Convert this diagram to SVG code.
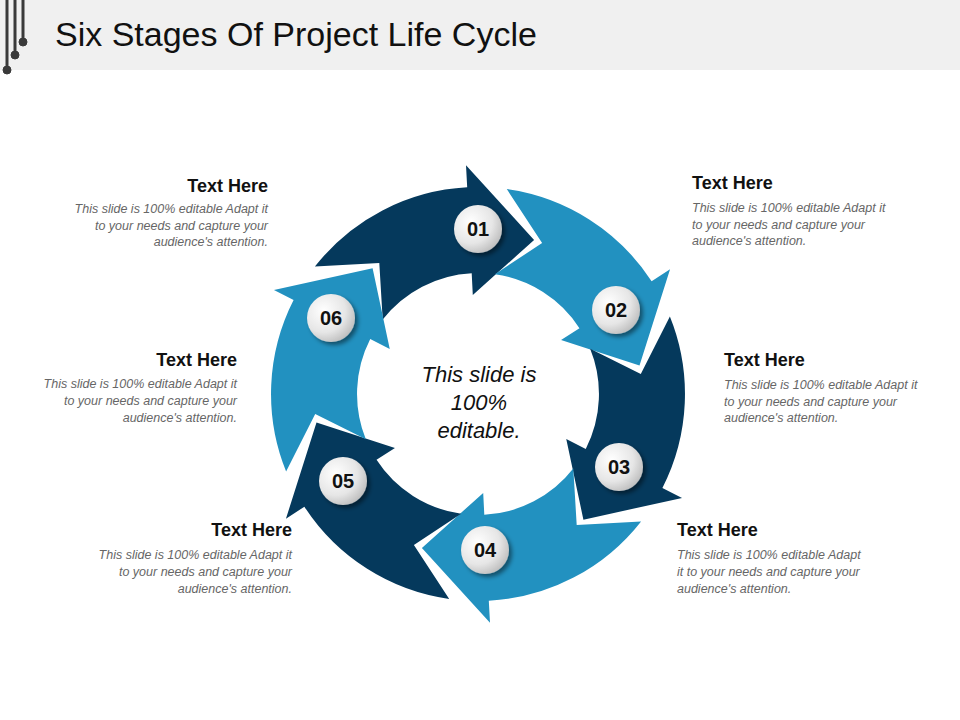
<svg xmlns="http://www.w3.org/2000/svg" width="960" height="720" viewBox="0 0 960 720">
<style>
.t{font-family:"Liberation Sans",Arial,sans-serif}
.h{font-size:18px;font-weight:bold;fill:#111}
.b{font-size:12.5px;font-style:italic;fill:#666}
.n{font-size:20px;font-weight:bold;fill:#111;text-anchor:middle}
.dk{fill:#05395C}.lt{fill:#2291C0}
</style>
<defs>
<path id="arr" d="M -163.1,-127.4 A 207 207 0 0 1 -10.8,-206.7 L -12.0,-228.7 L 56.1,-154.1 L -5.2,-98.9 L -6.3,-120.8 A 121 121 0 0 0 -95.3,-74.5 L -98.7,-131.0 Z"/>
<radialGradient id="bg" cx="0.35" cy="0.35" r="0.75"><stop offset="0" stop-color="#ffffff"/><stop offset="0.6" stop-color="#e6e6e6"/><stop offset="1" stop-color="#b8b8b8"/></radialGradient>
<filter id="sh" x="-30%" y="-30%" width="170%" height="170%"><feDropShadow dx="3" dy="3" stdDeviation="2" flood-color="#000" flood-opacity="0.45"/></filter>
</defs>
<rect x="0" y="0" width="960" height="70" fill="#f0f0f0"/>
<g fill="#3a3a3a" stroke="#3a3a3a">
<line x1="7" y1="0" x2="7" y2="68" stroke-width="3"/><circle cx="7" cy="70" r="4"/>
<line x1="15" y1="0" x2="15" y2="53" stroke-width="3"/><circle cx="15" cy="55" r="4"/>
<line x1="23" y1="0" x2="23" y2="40" stroke-width="3"/><circle cx="23" cy="42" r="4"/>
</g>
<text class="t" x="55" y="46" font-size="34" fill="#111">Six Stages Of Project Life Cycle</text>
<g id="ring" transform="translate(478,394)">
<g id="arrow1"><use href="#arr" class="dk"/></g>
<g id="arrow2"><use href="#arr" class="lt" transform="rotate(60)"/></g>
<g id="arrow3"><use href="#arr" class="dk" transform="rotate(120)"/></g>
<g id="arrow4"><use href="#arr" class="lt" transform="rotate(180)"/></g>
<g id="arrow5"><use href="#arr" class="dk" transform="rotate(240)"/></g>
<g id="arrow6"><use href="#arr" class="lt" transform="rotate(300)"/></g>
</g>
<g id="badges">
<g id="b1"><circle cx="478" cy="229" r="24" fill="url(#bg)" filter="url(#sh)"/><text class="t n" x="478" y="236">01</text></g>
<g id="b2"><circle cx="616" cy="310" r="24" fill="url(#bg)" filter="url(#sh)"/><text class="t n" x="616" y="317">02</text></g>
<g id="b3"><circle cx="619" cy="467" r="24" fill="url(#bg)" filter="url(#sh)"/><text class="t n" x="619" y="474">03</text></g>
<g id="b4"><circle cx="485" cy="550" r="24" fill="url(#bg)" filter="url(#sh)"/><text class="t n" x="485" y="557">04</text></g>
<g id="b5"><circle cx="343" cy="481" r="24" fill="url(#bg)" filter="url(#sh)"/><text class="t n" x="343" y="488">05</text></g>
<g id="b6"><circle cx="331" cy="318" r="24" fill="url(#bg)" filter="url(#sh)"/><text class="t n" x="331" y="325">06</text></g>
</g>
<g id="center" class="t" font-size="22" font-style="italic" fill="#111" text-anchor="middle">
<text x="479" y="382">This slide is</text><text x="479" y="410">100%</text><text x="479" y="438">editable.</text>
</g>
<g id="txt1" class="t" text-anchor="end"><text class="h" x="268" y="192">Text Here</text>
<text class="b" x="268" y="213">This slide is 100% editable Adapt it</text><text class="b" x="268" y="230">to your needs and capture your</text><text class="b" x="268" y="246">audience's attention.</text></g>
<g id="txt6" class="t" text-anchor="end"><text class="h" x="237" y="366">Text Here</text>
<text class="b" x="237" y="388">This slide is 100% editable Adapt it</text><text class="b" x="237" y="405">to your needs and capture your</text><text class="b" x="237" y="422">audience's attention.</text></g>
<g id="txt5" class="t" text-anchor="end"><text class="h" x="292" y="536">Text Here</text>
<text class="b" x="292" y="559">This slide is 100% editable Adapt it</text><text class="b" x="292" y="576">to your needs and capture your</text><text class="b" x="292" y="593">audience's attention.</text></g>
<g id="txt2" class="t"><text class="h" x="692" y="189">Text Here</text>
<text class="b" x="692" y="212">This slide is 100% editable Adapt it</text><text class="b" x="692" y="229">to your needs and capture your</text><text class="b" x="692" y="245">audience's attention.</text></g>
<g id="txt3" class="t"><text class="h" x="724" y="366">Text Here</text>
<text class="b" x="724" y="389">This slide is 100% editable Adapt it</text><text class="b" x="724" y="406">to your needs and capture your</text><text class="b" x="724" y="422">audience's attention.</text></g>
<g id="txt4" class="t"><text class="h" x="677" y="536">Text Here</text>
<text class="b" x="677" y="559">This slide is 100% editable Adapt</text><text class="b" x="677" y="576">it to your needs and capture your</text><text class="b" x="677" y="593">audience's attention.</text></g>
</svg>
